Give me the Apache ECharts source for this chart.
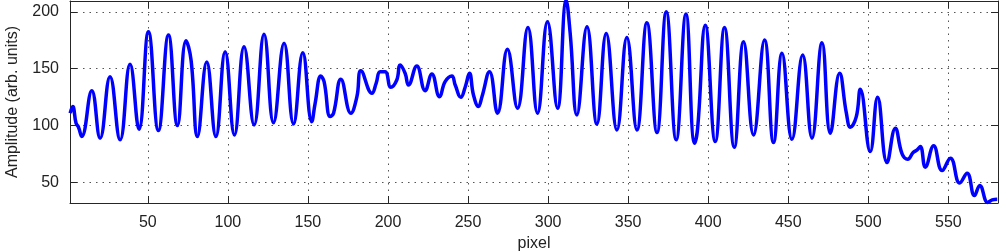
<!DOCTYPE html>
<html>
<head>
<meta charset="utf-8">
<script src="https://cdn.jsdelivr.net/npm/echarts@6/dist/echarts.min.js"></script>
<style>
  html, body { margin: 0; padding: 0; background: #fff; }
  #chart { width: 1000px; height: 251px; }
</style>
</head>
<body>
<div id="chart"></div>
<script>
// pixel positions and amplitudes (peaks, troughs, shoulders)
var pixel = [1.5, 3.1, 5.2, 6.6, 8.7, 15, 20.2, 26.4, 32.7, 38.9, 44.5, 50.4, 56.6, 62.9, 68.5,
    73.9, 77, 81, 86.8, 92.5, 98.3, 104.1, 110.1, 116.4, 122.6, 128.5, 135.1, 141, 146.8,
    152.4, 154.5, 158.1, 160.1, 163.9, 166, 170.6, 176.8, 180.6, 183.1, 190, 192.6, 195.1,
    198.2, 201.8, 205.5, 207.6, 210.7, 212.8, 218, 223.2, 227.4, 232.2, 235.7, 239.9, 242,
    245.5, 248.2, 250.9, 253.4, 256.5, 258.7, 263.4, 268.4, 274.6, 280.9, 287.4, 293.4,
    299.6, 305.9, 311.3, 313.8, 318, 324.3, 330.5, 336.3, 343, 349.2, 355.5, 361.7, 368,
    373.8, 380, 386.1, 391.5, 393.4, 398.2, 404.4, 410.2, 416.3, 422.1, 428.3, 435.2, 440.8,
    446.1, 452.3, 459, 464.8, 471.1, 476.3, 482.1, 486.3, 488.8, 492.5, 495, 501.2, 505.8,
    511.7, 516.9, 521.1, 524.6, 528, 530.5, 532.5, 535.6, 540.8, 546.1, 551.3, 557.1, 561.7,
    566.3, 569.6, 574.6, 577.4, 580.5];
var amplitude = [111, 116.7, 102, 99, 90.4, 130.7, 89, 143, 87.5, 154, 96.8, 182.5, 95.6, 179.6, 100,
    174.6, 157.6, 90.4, 155.9, 90.4, 164.9, 91.8, 169.3, 100.6, 180.2, 102.6, 172.3, 101.5, 164,
    103.5, 119.6, 143.6, 138.6, 107.9, 110.9, 140.7, 110.9, 125.4, 148.2, 128.4, 137.2, 147.4,
    147.4, 133.7, 140.1, 153.2, 146, 135.7, 152.4, 130.7, 145.4, 125.4, 138.6, 143.6, 135.7,
    124.9, 133.7, 146, 126.9, 116.7, 125.4, 147.4, 110.9, 167, 115.3, 186.3, 110.9,
    191.2, 115.3, 210, 181, 109.4, 186.8, 101.5, 181, 96.2, 177.5, 96.2, 190.4, 93.9,
    200, 87.5, 198, 84.6, 97.7, 188.3, 86, 186.3, 81, 173.7, 91.8, 175.2, 85.1,
    163.5, 88, 162, 89, 172.8, 93.3, 146, 110.9, 98.6, 107.9, 131.9, 77.2, 124.9,
    67.5, 97.7, 75.2, 70.5, 76.3, 78.7, 81.6, 63.5, 82.2, 60.5, 71.4, 49.5, 58.2,
    38.6, 47.4, 32.5, 34.8, 35.4];
var xTicks = [50, 100, 150, 200, 250, 300, 350, 400, 450, 500, 550];
var yTicks = [50, 100, 150, 200];

var data = [];
for (var i = 0; i < pixel.length; i++) {
    data.push([pixel[i], amplitude[i]]);
}

var myChart = echarts.init(document.getElementById('chart'));
var font = '"Liberation Sans", Arial, sans-serif';
var grid = { type: [1.5, 5], color: '#555', width: 1 };
var option = {
    animation: false,
    grid: { left: 70, right: 2, top: 1, bottom: 48, outerBoundsMode: 'none', containLabel: false },
    xAxis: [{
        type: 'value', position: 'bottom', min: 1.4, max: 581,
        name: 'pixel', nameLocation: 'middle', nameGap: 33,
        nameTextStyle: { fontFamily: font, fontSize: 16, color: '#222' },
        axisLine: { show: true, lineStyle: { color: '#262626', width: 1 } },
        axisTick: { inside: true, length: 7, customValues: xTicks, lineStyle: { color: '#262626' } },
        axisLabel: { customValues: xTicks, fontFamily: font, fontSize: 16, color: '#222', margin: 12 },
        splitLine: { show: true, lineStyle: grid }
    }, {
        type: 'value', position: 'top', min: 1.4, max: 581,
        axisLine: { show: true, lineStyle: { color: '#262626', width: 1 } },
        axisTick: { inside: true, length: 7, customValues: xTicks, lineStyle: { color: '#262626' } },
        axisLabel: { show: false },
        splitLine: { show: false }
    }],
    yAxis: [{
        type: 'value', position: 'left', min: 32, max: 209.5,
        name: 'Amplitude (arb. units)', nameLocation: 'middle', nameGap: 49,
        nameTextStyle: { fontFamily: font, fontSize: 16, color: '#222' },
        axisLine: { show: true, lineStyle: { color: '#262626', width: 1 } },
        axisTick: { inside: true, length: 7, customValues: yTicks, lineStyle: { color: '#262626' } },
        axisLabel: { customValues: yTicks, fontFamily: font, fontSize: 16, color: '#222', margin: 11 },
        splitLine: { show: true, lineStyle: grid }
    }, {
        type: 'value', position: 'right', min: 32, max: 209.5,
        axisLine: { show: true, lineStyle: { color: '#262626', width: 1 } },
        axisTick: { inside: true, length: 7, customValues: yTicks, lineStyle: { color: '#262626' } },
        axisLabel: { show: false },
        splitLine: { show: false }
    }],
    series: [{
        type: 'line',
        data: data,
        showSymbol: false,
        smooth: 0.45,
        lineStyle: { color: '#0000ff', width: 3.5 }
    }]
};
myChart.setOption(option);
window.addEventListener('resize', function () { myChart.resize(); });
</script>
</body>
</html>
